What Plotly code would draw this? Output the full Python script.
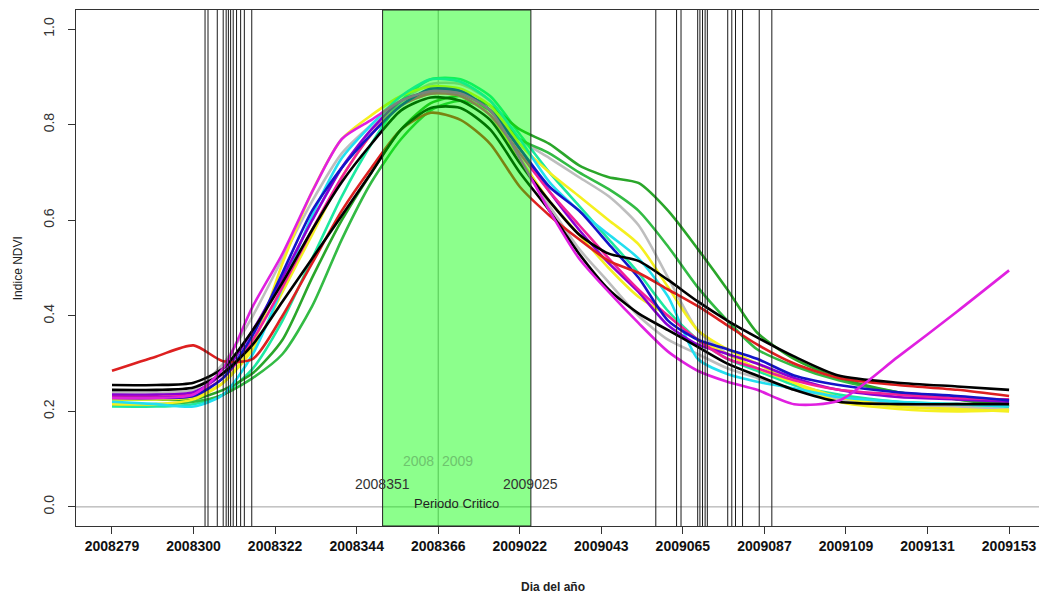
import plotly.graph_objects as go

# x axis: day offset from 2008279 (tick every 22 positions)
tick_pos = [0, 22, 44, 66, 88, 110, 132, 154, 176, 198, 220, 242]
tick_labels = ["2008279", "2008300", "2008322", "2008344", "2008366", "2009022",
               "2009043", "2009065", "2009087", "2009109", "2009131", "2009153"]

# sampling positions (same offsets) for all series
x_days = [0, 12, 22, 30, 38, 46, 54, 62, 70, 78, 86, 94, 102, 110, 118, 126,
          134, 142, 150, 158, 166, 174, 184, 196, 212, 228, 242]

red = [.285, .315, .338, .305, .31, .40, .51, .62, .71, .79, .825, .81, .76, .67, .61, .56,
       .515, .49, .455, .42, .38, .34, .30, .27, .255, .245, .232]
black_a = [.255, .255, .26, .29, .37, .47, .58, .68, .76, .83, .857, .85, .81, .72, .64, .57,
           .53, .515, .475, .43, .39, .355, .315, .275, .26, .252, .245]
black_b = [.245, .245, .25, .28, .34, .43, .52, .61, .70, .79, .835, .835, .79, .70, .62, .53,
           .455, .405, .37, .335, .30, .275, .245, .22, .215, .215, .215]
blue = [.228, .228, .232, .27, .36, .49, .62, .71, .78, .84, .875, .87, .83, .75, .67, .62,
        .55, .48, .39, .35, .33, .31, .275, .255, .24, .232, .223]
purple = [.235, .235, .24, .28, .37, .48, .60, .71, .79, .85, .87, .87, .83, .75, .66, .58,
          .51, .45, .38, .34, .32, .30, .27, .245, .23, .225, .22]
magenta_a = [.228, .228, .235, .29, .42, .53, .66, .77, .81, .85, .87, .865, .83, .73, .62, .52,
             .45, .385, .325, .285, .262, .245, .215, .222, .314, .409, .495]
magenta_b = [.23, .23, .235, .27, .35, .46, .58, .69, .78, .84, .865, .86, .82, .74, .66, .59,
             .52, .455, .40, .35, .31, .29, .265, .245, .235, .228, .225]
cyan = [.22, .215, .21, .235, .32, .46, .61, .73, .80, .86, .895, .89, .85, .77, .68, .62,
        .57, .52, .44, .31, .278, .262, .248, .23, .22, .215, .21]
yellow_a = [.215, .215, .225, .26, .34, .51, .66, .77, .82, .86, .88, .875, .84, .76, .70, .65,
            .60, .55, .46, .37, .33, .30, .26, .22, .205, .20, .203]
yellow_b = [.225, .225, .23, .26, .33, .45, .57, .69, .78, .84, .865, .86, .82, .73, .64, .57,
            .50, .44, .40, .35, .32, .29, .26, .23, .21, .205, .20]
gray_a = [.24, .24, .245, .30, .40, .52, .64, .74, .80, .85, .885, .885, .85, .77, .73, .69,
          .65, .59, .48, .37, .32, .29, .255, .225, .21, .205, .205]
gray_b = [.235, .235, .24, .28, .37, .48, .60, .71, .79, .845, .87, .865, .82, .72, .63, .54,
          .47, .40, .35, .32, .29, .27, .245, .225, .215, .21, .205]
green_a = [.225, .225, .225, .245, .28, .35, .48, .60, .70, .79, .845, .86, .84, .79, .76, .715,
           .69, .678, .62, .54, .455, .365, .31, .27, .24, .225, .215]
green_b = [.215, .215, .22, .235, .27, .32, .42, .56, .68, .77, .83, .85, .83, .77, .74, .70,
           .665, .62, .545, .46, .39, .33, .295, .265, .24, .225, .21]
spring = [.21, .21, .215, .235, .29, .39, .52, .65, .76, .85, .895, .895, .86, .78, .70, .63,
          .56, .49, .41, .35, .31, .285, .255, .235, .22, .215, .21]

series = [
    ("gray_b", gray_b, "#bdbdbd"),
    ("gray_a", gray_a, "#bebebe"),
    ("spring", spring, "#1de9a0"),
    ("green_b", green_b, "#33bb44"),
    ("green_a", green_a, "#2aa62a"),
    ("yellow_b", yellow_b, "#f2ee22"),
    ("yellow_a", yellow_a, "#f5f020"),
    ("cyan", cyan, "#22dff0"),
    ("purple", purple, "#8a00d4"),
    ("magenta_b", magenta_b, "#f0209a"),
    ("blue", blue, "#1414c8"),
    ("red", red, "#dd2020"),
    ("black_b", black_b, "#000000"),
    ("black_a", black_a, "#000000"),
    ("magenta_a", magenta_a, "#e020e0"),
]

# vertical reference lines (day offsets)
vlines_early = [25.1, 25.9, 28.4, 30.0, 30.8, 31.4, 32.0, 32.7, 33.6, 34.7, 35.7, 37.7]
vlines_late = [146.7, 152.3, 153.5, 158.0, 158.6, 159.3, 160.0, 160.6, 166.1, 167.2, 168.2,
               170.1, 174.6, 178.0]

critical_start = 73   # 2008351
critical_end = 113    # 2009025
year_change = 88      # 2008366 / 2009

fig = go.Figure()
for name, vals, col in series:
    fig.add_trace(go.Scatter(x=x_days, y=vals, mode="lines", name=name,
                             line=dict(color=col, width=2.6, shape="spline", smoothing=0.7),
                             showlegend=False, hoverinfo="skip"))

shapes = []
shapes.append(dict(type="line", xref="paper", yref="y", x0=0, x1=1, y0=0, y1=0,
                   line=dict(color="#a0a0a0", width=1), layer="below"))
shapes.append(dict(type="line", xref="x", yref="paper", x0=year_change, x1=year_change,
                   y0=0, y1=1, line=dict(color="#9a9a9a", width=1), layer="below"))
shapes.append(dict(type="rect", xref="x", yref="paper", x0=critical_start, x1=critical_end,
                   y0=0, y1=1, fillcolor="rgba(0,255,0,0.45)",
                   line=dict(color="#222222", width=1), layer="above"))
for v in vlines_early + vlines_late:
    shapes.append(dict(type="line", xref="x", yref="paper", x0=v, x1=v, y0=0, y1=1,
                       line=dict(color="#1a1a1a", width=1), layer="above"))

annotations = [
    dict(x=year_change, y=0.096, xref="x", yref="y", text="2008", showarrow=False,
         xanchor="right", xshift=-2, font=dict(size=14, color="#6ec46e")),
    dict(x=year_change, y=0.096, xref="x", yref="y", text="2009", showarrow=False,
         xanchor="left", xshift=2, font=dict(size=14, color="#6ec46e")),
    dict(x=critical_start, y=0.048, xref="x", yref="y", text="2008351", showarrow=False,
         xanchor="center", font=dict(size=14, color="#333333")),
    dict(x=critical_end, y=0.048, xref="x", yref="y", text="2009025", showarrow=False,
         xanchor="center", font=dict(size=14, color="#333333")),
    dict(x=(critical_start + critical_end) / 2, y=0.008, xref="x", yref="y",
         text="Periodo Critico", showarrow=False, xanchor="center",
         font=dict(size=13, color="#222222")),
    dict(x=0.495, y=-0.118, xref="paper", yref="paper", text="<b>Dia del año</b>",
         showarrow=False, xanchor="center", yanchor="middle",
         font=dict(size=12, color="#222222")),
    dict(x=-0.06, y=0.5, xref="paper", yref="paper", text="Indice NDVI", textangle=-90,
         showarrow=False, xanchor="center", yanchor="middle",
         font=dict(size=12, color="#222222")),
]

fig.update_layout(
    width=1039, height=596,
    margin=dict(l=76, r=0, t=10, b=70),
    paper_bgcolor="white", plot_bgcolor="white",
    font=dict(family="Liberation Sans, Arial, sans-serif", color="#222222"),
    shapes=shapes, annotations=annotations,
    xaxis=dict(range=[-9.71, 250.07], tickvals=tick_pos,
               ticktext=["<b>%s</b>" % t for t in tick_labels],
               tickfont=dict(size=14, color="#111111"),
               showgrid=False, zeroline=False, showline=True, mirror=True,
               linecolor="#333333", linewidth=1, ticks="outside", ticklen=7,
               tickcolor="#333333"),
    yaxis=dict(range=[-0.04, 1.04], tickvals=[0, 0.2, 0.4, 0.6, 0.8, 1.0],
               ticktext=["0.0", "0.2", "0.4", "0.6", "0.8", "1.0"], tickangle=-90,
               tickfont=dict(size=14, color="#333333"),
               showgrid=False, zeroline=False, showline=True, mirror=False,
               linecolor="#333333", linewidth=1, ticks="outside", ticklen=7,
               tickcolor="#333333", ticklabelstandoff=8),
)

fig.write_html("out.html")
